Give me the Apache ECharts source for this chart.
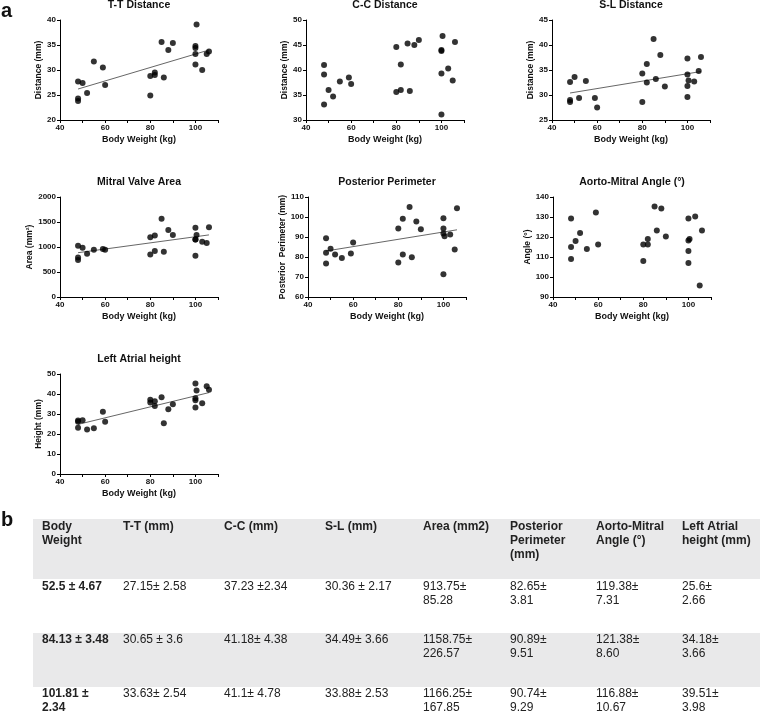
<!DOCTYPE html>
<html><head><meta charset="utf-8">
<script src="https://cdn.jsdelivr.net/npm/echarts@6/dist/echarts.min.js"></script>
<style>html,body{margin:0;padding:0;background:#fff}#c{width:760px;height:712px}</style>
</head><body><div id="c"></div>
<script>
// ---- data ----
const weights = [48,48,48,50,52,55,59,60, 80,80,82,82,85,86,88,90, 100,100,100,100,100.5,103,105,106];
const ttValues = [27.7,24.3,23.8,27.4,25.4,31.7,30.5,27.0, 28.8,24.9,29.5,29.0,35.6,28.5,34.0,35.4, 34.8,34.4,33.2,31.1,39.1,30.0,33.2,33.7];
const ccValues = [41.0,39.1,33.1,36.0,34.7,37.7,38.5,37.2, 44.6,35.6,41.1,36.0,45.3,35.8,45.0,46.0, 44.0,43.8,39.3,31.1,46.8,40.3,37.9,45.6];
const slValues = [32.6,28.6,29.0,33.6,29.4,32.8,29.4,27.5, 34.3,28.6,36.2,32.5,41.2,33.2,38.0,31.7, 37.3,34.1,31.8,29.6,32.9,32.7,34.8,37.6];
const areaValues = [1027,792,738,987,866,946,960,946, 1195,852,1228,919,1564,906,1342,1242, 1383,1148,1150,826,1242,1107,1081,1396];
const perimValues = [89.4,82.1,76.8,84.1,81.3,79.5,81.8,87.3, 94.2,77.3,99.1,81.3,105.0,79.9,97.7,93.9, 99.4,94.2,91.8,71.4,90.4,91.3,83.8,104.4];
const angleValues = [129.2,115.0,109.0,118.0,122.0,114.0,132.2,116.2, 116.2,108.0,119.0,116.2,135.3,123.2,134.3,120.2, 129.2,118.2,113.0,107.0,119.0,130.2,95.8,123.2];
const heightValues = [26.8,26.1,23.1,26.9,22.3,22.9,31.1,26.1, 37.1,35.7,36.4,34.0,38.4,25.4,32.4,34.9, 45.2,37.9,36.9,33.2,41.8,35.4,43.9,42.1];

const ttFit = [[48,26.2],[106,34.0]];
const slFit = [[48,30.4],[106,34.7]];
const areaFit = [[48,886],[106,1242]];
const perimFit = [[48,83.0],[106,93.6]];
const heightFit = [[48,24.8],[106,40.7]];

const panelTitles = ['T-T Distance','C-C Distance','S-L Distance','Mitral Valve Area','Posterior Perimeter','Aorto-Mitral Angle (°)','Left Atrial height'];
const yNames = ['Distance (mm)','Distance (mm)','Distance (mm)','Area (mm²)','Posterior  Perimeter (mm)','Angle (°)','Height (mm)'];
const xName = 'Body Weight (kg)';
const xMin = 40, xMax = 110, xStep = 10;
const yMins = [20,30,25,0,60,90,0];
const yMaxs = [40,50,45,2000,110,140,50];
const ySteps = [5,5,5,500,10,10,10];

const tableHeader = ['Body\nWeight','T-T (mm)','C-C (mm)','S-L (mm)','Area (mm2)','Posterior\nPerimeter\n(mm)','Aorto-Mitral\nAngle (°)','Left Atrial\nheight (mm)'];
const tableRow1 = ['52.5 ± 4.67','27.15± 2.58','37.23 ±2.34','30.36 ± 2.17','913.75±\n85.28','82.65±\n3.81','119.38±\n7.31','25.6±\n2.66'];
const tableRow2 = ['84.13 ± 3.48','30.65 ± 3.6','41.18± 4.38','34.49± 3.66','1158.75±\n226.57','90.89±\n9.51','121.38±\n8.60','34.18±\n3.66'];
const tableRow3 = ['101.81 ±\n2.34','33.63± 2.54','41.1± 4.78','33.88± 2.53','1166.25±\n167.85','90.74±\n9.29','116.88±\n10.67','39.51±\n3.98'];

// ---- layout ----
const FONT = '"Liberation Sans", Arial, Helvetica, sans-serif';
const panelValues = [ttValues, ccValues, slValues, areaValues, perimValues, angleValues, heightValues];
const panelFits = [ttFit, null, slFit, areaFit, perimFit, null, heightFit];
const lefts = [60,306,552,60,308,553,60];
const tops = [20,20,20,197,197,197,374];
const W = 158, H = 100;

const grid = [], xAxis = [], yAxis = [], series = [], graphic = [];
const axisCommon = {
  axisLine: {show: true, onZero: false, lineStyle: {color: '#000', width: 1}},
  axisTick: {show: true, length: 3, inside: false, lineStyle: {color: '#000', width: 1}},
  splitLine: {show: false}
};
panelValues.forEach((vals, i) => {
  grid.push({left: lefts[i], top: tops[i], width: W, height: H, containLabel: false});
  xAxis.push(Object.assign({}, axisCommon, {
    gridIndex: i, type: 'value', min: xMin, max: xMax, interval: xStep,
    axisLabel: {fontSize: 8, fontWeight: 'bold', color: '#111', fontFamily: FONT, margin: 4,
      formatter: v => (v % 20 === 0 ? String(v) : '')},
    name: xName, nameLocation: 'middle', nameGap: 15,
    nameTextStyle: {fontSize: 9, fontWeight: 'bold', color: '#111', fontFamily: FONT}
  }));
  yAxis.push(Object.assign({}, axisCommon, {
    gridIndex: i, type: 'value', min: yMins[i], max: yMaxs[i], interval: ySteps[i],
    axisLabel: {fontSize: 8, fontWeight: 'bold', color: '#111', fontFamily: FONT, margin: 4,
      formatter: v => String(v)},
    name: yNames[i], nameLocation: 'middle', nameGap: i === 3 ? 23 : (i === 4 ? 20 : 17), nameRotate: 90,
    nameTextStyle: {fontSize: 8.5, fontWeight: 'bold', color: '#111', fontFamily: FONT}
  }));
  series.push({
    type: 'scatter', xAxisIndex: i, yAxisIndex: i, symbol: 'circle', symbolSize: 6,
    itemStyle: {color: '#000'}, silent: true,
    data: weights.map((w, k) => [w, vals[k]])
  });
  if (panelFits[i]) {
    series.push({
      type: 'line', xAxisIndex: i, yAxisIndex: i, symbol: 'none', silent: true,
      lineStyle: {color: '#555', width: 0.9}, data: panelFits[i], z: 1
    });
  }
  graphic.push({type: 'text', x: lefts[i] + W / 2, y: tops[i] - 15,
    style: {text: panelTitles[i], font: 'bold 10.5px ' + FONT, fill: '#111', align: 'center', verticalAlign: 'middle'}});
});

// panel labels
graphic.push({type: 'text', x: 1, y: 11, style: {text: 'a', font: 'bold 20px ' + FONT, fill: '#111', align: 'left', verticalAlign: 'middle'}});
graphic.push({type: 'text', x: 1, y: 520, style: {text: 'b', font: 'bold 20px ' + FONT, fill: '#111', align: 'left', verticalAlign: 'middle'}});

// table
const colX = [42,123,224,325,423,510,596,682];
const GRAY = '#e9e9ea';
graphic.push({type: 'rect', shape: {x: 33, y: 519, width: 727, height: 60}, style: {fill: GRAY}, z: -1});
graphic.push({type: 'rect', shape: {x: 33, y: 633, width: 727, height: 54}, style: {fill: GRAY}, z: -1});
const rowTops = [520, 580, 633, 687];
[tableHeader, tableRow1, tableRow2, tableRow3].forEach((row, r) => {
  row.forEach((txt, c) => {
    const bold = (r === 0 || c === 0);
    graphic.push({type: 'text', x: colX[c], y: rowTops[r],
      style: {text: txt, font: (bold ? 'bold ' : '') + '12px ' + FONT, fill: '#222', align: 'left', verticalAlign: 'top', lineHeight: 14}});
  });
});

const chart = echarts.init(document.getElementById('c'), null, {renderer: 'canvas'});
chart.setOption({animation: false, backgroundColor: '#fff', grid, xAxis, yAxis, series, graphic});
</script></body></html>
